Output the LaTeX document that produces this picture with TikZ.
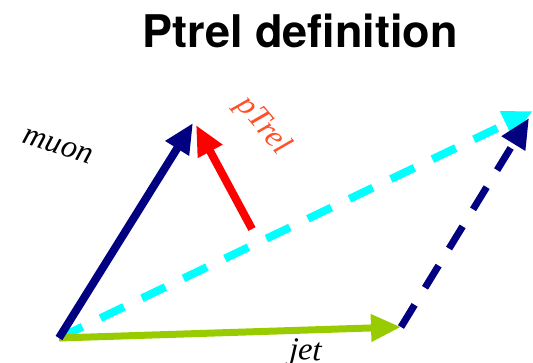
\documentclass[tikz,border=0pt]{standalone}
\usepackage{fontspec}
\setmainfont{Liberation Serif}
\newfontfamily\titlefont{TeX Gyre Heros}
\usetikzlibrary{arrows.meta}
\definecolor{navyc}{RGB}{0,0,128}
\definecolor{cyanc}{RGB}{0,255,255}
\definecolor{jetc}{RGB}{153,204,0}
\definecolor{redc}{RGB}{255,0,0}
\definecolor{labc}{RGB}{255,80,40}
\tikzset{
  vec/.style={line width=8pt, -{Triangle[length=30pt,width=26pt]}},
  dashvec/.style={vec, dash pattern=on 26pt off 20pt},
  lab/.style={font=\itshape\fontsize{32}{36}\selectfont, inner sep=0pt}
}
\begin{document}
\begin{tikzpicture}[x=1pt,y=-1pt]
\useasboundingbox (0,0) rectangle (533,362);
\node[font=\titlefont\bfseries\fontsize{45}{50}\selectfont, anchor=base] (title) at (300,47) {Ptrel definition};
\coordinate (O) at (59,338);
\coordinate (M) at (193,123);
\coordinate (J) at (401,327);
\coordinate (T) at (533,111);
\coordinate (N) at (529,118);
\coordinate (R0) at (252,229);
\coordinate (R1) at (196,125);
\draw[dashvec, cyanc] (O) -- (T);
\draw[dashvec, navyc, line width=7pt] (J) -- (N);
\draw[vec, jetc, line width=7pt] (O) -- (J);
\draw[vec, navyc] (O) -- (M);
\draw[vec, redc] (R0) -- (R1);
\node[lab, rotate=-18] (muon) at (58,146) {muon};
\node[lab, rotate=-50, text=labc] (ptrel) at (263,126) {pTrel};
\node[lab, rotate=-3, anchor=base] (jet) at (305,360) {jet};
\end{tikzpicture}
\end{document}
